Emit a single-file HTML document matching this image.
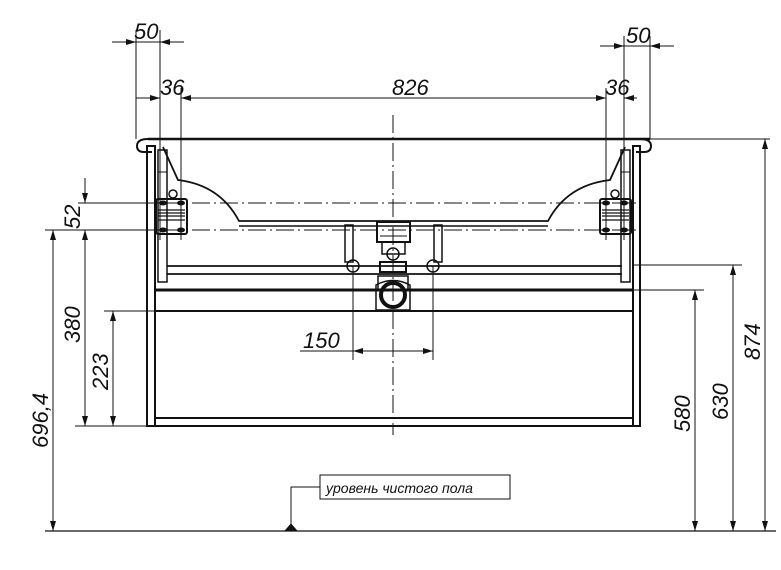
<!DOCTYPE html>
<html><head><meta charset="utf-8"><style>
html,body{margin:0;padding:0;background:#fff}
svg{display:block}
text{font-family:"Liberation Sans","DejaVu Sans",sans-serif;font-style:italic;fill:#111}
</style></head><body>
<svg width="781" height="570" viewBox="0 0 781 570" xmlns="http://www.w3.org/2000/svg">
<defs>
<marker id="a" viewBox="0 0 10 6" refX="10" refY="3" markerWidth="10" markerHeight="6" orient="auto-start-reverse" markerUnits="userSpaceOnUse"><path d="M0,0 L10,3 L0,6 z" fill="#111"/></marker>
</defs>
<g stroke="#111" fill="none" stroke-width="1">
<!-- extension lines top -->
<line x1="136" y1="30" x2="136" y2="139"/>
<line x1="160" y1="30" x2="160" y2="240"/>
<line x1="181" y1="88" x2="181" y2="240"/>
<line x1="606" y1="88" x2="606" y2="240"/>
<line x1="624" y1="36" x2="624" y2="240"/>
<line x1="650" y1="36" x2="650" y2="139"/>
<!-- top dims -->
<line x1="112" y1="42" x2="136" y2="42" marker-end="url(#a)"/>
<line x1="184" y1="42" x2="160" y2="42" marker-end="url(#a)"/>
<line x1="136" y1="42" x2="160" y2="42"/>
<line x1="136" y1="98" x2="160" y2="98" marker-end="url(#a)"/>
<line x1="181" y1="98" x2="606" y2="98" marker-start="url(#a)" marker-end="url(#a)"/>
<line x1="596" y1="98" x2="606" y2="98"/>
<line x1="624" y1="98" x2="637" y2="98" marker-start="url(#a)"/>
<line x1="600" y1="46" x2="624" y2="46" marker-end="url(#a)"/>
<line x1="674" y1="46" x2="650" y2="46" marker-end="url(#a)"/>
<line x1="624" y1="46" x2="650" y2="46"/>
<!-- countertop -->
<path d="M148,139 L650,139" stroke-width="2.5"/>
<path d="M148,139 Q137,139 137,146 Q137,152 144,152 L152,152" stroke-width="2"/>
<path d="M640,139 Q651,139 651,146 Q651,152 644,152 L636,152" stroke-width="2"/>
<line x1="650" y1="139" x2="770" y2="139"/>
<!-- cabinet sides -->
<rect x="147" y="146" width="8" height="280" stroke-width="2"/>
<rect x="633" y="146" width="7" height="280" stroke-width="2"/>
<line x1="155" y1="418" x2="633" y2="418" stroke-width="2"/>
<line x1="147" y1="426" x2="640" y2="426" stroke-width="2"/>
<line x1="155" y1="290" x2="633" y2="290" stroke-width="3"/>
<line x1="155" y1="311" x2="633" y2="311" stroke-width="2"/>
<!-- rails -->
<line x1="167" y1="266" x2="622" y2="266" stroke-width="1.8"/>
<line x1="167" y1="274" x2="622" y2="274" stroke-width="1.8"/>
<rect x="158" y="150" width="9" height="132" stroke-width="1.5"/>
<rect x="621" y="150" width="9" height="132" stroke-width="1.5"/>
<line x1="158" y1="172" x2="167" y2="172"/>
<line x1="621" y1="172" x2="630" y2="172"/>
<!-- basin -->
<path d="M163,147 L178,180 Q220,185 239,221 L548,221 Q567,185 610,180 L625,147" stroke-width="1.8"/>
<line x1="239" y1="226" x2="548" y2="226" stroke-width="1.5"/>
<circle cx="173" cy="194" r="4" stroke-width="1.5"/>
<circle cx="615" cy="194" r="4" stroke-width="1.5"/>
<!-- brackets -->
<rect x="156" y="199" width="31" height="35" rx="2" stroke-width="2"/>
<rect x="600" y="199" width="31" height="35" rx="2" stroke-width="2"/>
<g stroke-width="1.2"><line x1="158" y1="210" x2="185" y2="210"/><line x1="158" y1="213" x2="185" y2="213"/><line x1="158" y1="216" x2="185" y2="216"/><line x1="158" y1="220" x2="185" y2="220"/>
<line x1="602" y1="210" x2="629" y2="210"/><line x1="602" y1="213" x2="629" y2="213"/><line x1="602" y1="216" x2="629" y2="216"/><line x1="602" y1="220" x2="629" y2="220"/></g>
<g fill="#111" stroke="none"><ellipse cx="163" cy="203" rx="4" ry="2.5"/><ellipse cx="181" cy="203" rx="4" ry="2.5"/><ellipse cx="163" cy="230" rx="4" ry="2.5"/><ellipse cx="181" cy="230" rx="4" ry="2.5"/>
<ellipse cx="606" cy="203" rx="4" ry="2.5"/><ellipse cx="624" cy="203" rx="4" ry="2.5"/><ellipse cx="606" cy="230" rx="4" ry="2.5"/><ellipse cx="624" cy="230" rx="4" ry="2.5"/></g>
<!-- dash-dot horizontals -->
<line x1="80" y1="203" x2="640" y2="203" stroke-dasharray="18,4,2,4"/>
<line x1="80" y1="230" x2="640" y2="230" stroke-dasharray="18,4,2,4"/>
<!-- siphon -->
<rect x="377" y="222" width="33" height="20" stroke-width="2"/>
<line x1="380" y1="236" x2="407" y2="236"/>
<rect x="382" y="242" width="23" height="12" stroke-width="1.5"/>
<circle cx="393" cy="254" r="6" stroke-width="1.5"/>
<rect x="380" y="262" width="26" height="10" stroke-width="2"/>
<path d="M378,290 L378,276 L408,276 L408,290 M376,310 L376,285 Q393,276 410,285 L410,310 Z" stroke-width="1.5"/>
<circle cx="393" cy="295" r="12" stroke-width="4"/>
<rect x="345" y="225" width="8" height="37" stroke-width="1.5"/>
<rect x="434" y="225" width="8" height="37" stroke-width="1.5"/>
<circle cx="353" cy="266" r="6" stroke-width="1.5"/>
<circle cx="433" cy="266" r="6" stroke-width="1.5"/>
<!-- center line -->
<line x1="393" y1="115" x2="393" y2="435" stroke-dasharray="18,4,2,4"/>
<!-- 150 -->
<line x1="353" y1="266" x2="353" y2="360"/>
<line x1="433" y1="266" x2="433" y2="360"/>
<line x1="300" y1="351" x2="353" y2="351"/>
<line x1="353" y1="351" x2="433" y2="351" marker-start="url(#a)" marker-end="url(#a)"/>
<!-- left dims -->
<line x1="45" y1="230" x2="160" y2="230"/>
<line x1="78" y1="203" x2="160" y2="203"/>
<line x1="75" y1="426" x2="147" y2="426"/>
<line x1="104" y1="311" x2="155" y2="311"/>
<line x1="85" y1="178" x2="85" y2="203" marker-end="url(#a)"/>
<line x1="85" y1="230" x2="85" y2="426" marker-start="url(#a)" marker-end="url(#a)"/>
<line x1="113" y1="311" x2="113" y2="426" marker-start="url(#a)" marker-end="url(#a)"/>
<line x1="53" y1="230" x2="53" y2="531" marker-start="url(#a)" marker-end="url(#a)"/>
<!-- right dims -->
<line x1="633" y1="265" x2="742" y2="265"/>
<line x1="633" y1="290" x2="704" y2="290"/>
<line x1="765" y1="139" x2="765" y2="531" marker-start="url(#a)" marker-end="url(#a)"/>
<line x1="733" y1="265" x2="733" y2="531" marker-start="url(#a)" marker-end="url(#a)"/>
<line x1="695" y1="290" x2="695" y2="531" marker-start="url(#a)" marker-end="url(#a)"/>
<!-- floor -->
<line x1="45" y1="531" x2="776" y2="531" stroke-width="1.3"/>
<path d="M285,531 L291,524 L297,531 Z" fill="#111"/>
<polyline points="291,524 291,487 320,487"/>
<rect x="320" y="475" width="190" height="24"/>
</g>
<g font-size="22">
<text x="134" y="39">50</text>
<text x="160" y="95">36</text>
<text x="392" y="95">826</text>
<text x="605" y="95">36</text>
<text x="626" y="43">50</text>
<text x="303" y="348">150</text>
<text transform="translate(80,229) rotate(-90)">52</text>
<text transform="translate(80,343) rotate(-90)">380</text>
<text transform="translate(108,390) rotate(-90)">223</text>
<text transform="translate(48,448) rotate(-90)">696,4</text>
<text transform="translate(690,432) rotate(-90)">580</text>
<text transform="translate(728,420) rotate(-90)">630</text>
<text transform="translate(760,360) rotate(-90)">874</text>
</g>
<text x="326" y="493" font-size="14">уровень чистого пола</text>
</svg>
</body></html>
